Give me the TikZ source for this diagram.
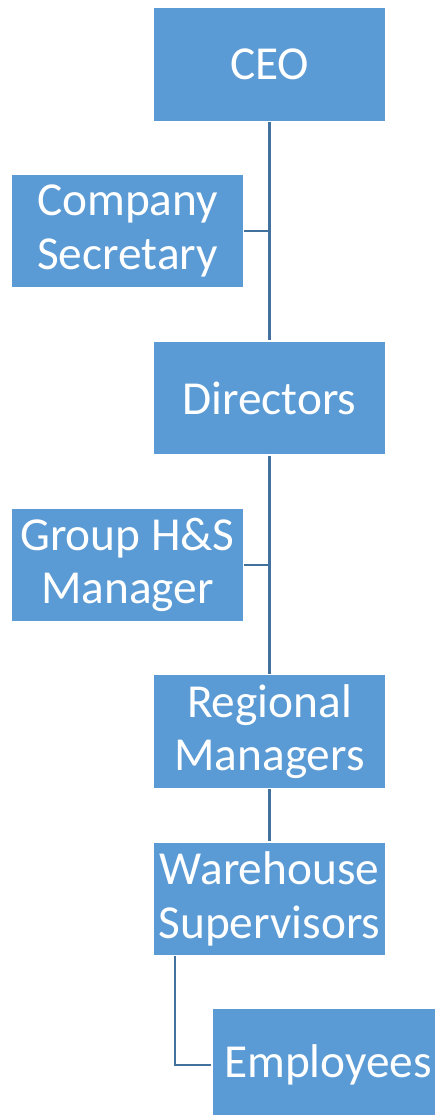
\documentclass[tikz,border=0pt]{standalone}
\usepackage{fontspec}
\setmainfont{Carlito}
\usepackage{tikz}
\definecolor{boxblue}{HTML}{5B9BD5}
\definecolor{lineblue}{HTML}{41719C}
\tikzset{
    post/.style={rectangle, fill=boxblue, draw=white, line width=1pt,
        minimum width=174pt, minimum height=85.5pt, align=center,
        text=white, font=\fontsize{35.5}{40}\selectfont, inner sep=0pt},
    link/.style={draw=lineblue, line width=2pt}
}
\begin{document}
\begin{tikzpicture}[x=0.75pt, y=-0.75pt]

            %page
            \clip (0, 0) rectangle (435, 1115);
            \fill[white] (0, 0) rectangle (435, 1115);

            %posts
            \node[post] (ceo) at (269.5, 64.5) {CEO};
            \node[post] (sec) at (127.5, 231) {Company\\Secretary};
            \node[post] (dir) at (269.5, 398) {Directors};
            \node[post] (hs) at (127.5, 565) {Group H\&S\\Manager};
            \node[post] (reg) at (269.5, 731.5) {Regional\\Managers};
            \node[post] (war) at (269.5, 899) {Warehouse\\Supervisors};
            \node[post] (emp) at (328, 1065) {Employees};

            %links
            \draw[link] (ceo.south) -- (dir.north);
            \draw[link] (sec.east) -- (sec.east -| ceo.south);
            \draw[link] (dir.south) -- (reg.north);
            \draw[link] (hs.east) -- (hs.east -| dir.south);
            \draw[link] (reg.south) -- (war.north);
            \coordinate (drop) at (175, 956);
            \draw[link] (drop) |- (emp.west);
        \end{tikzpicture}
\end{document}
